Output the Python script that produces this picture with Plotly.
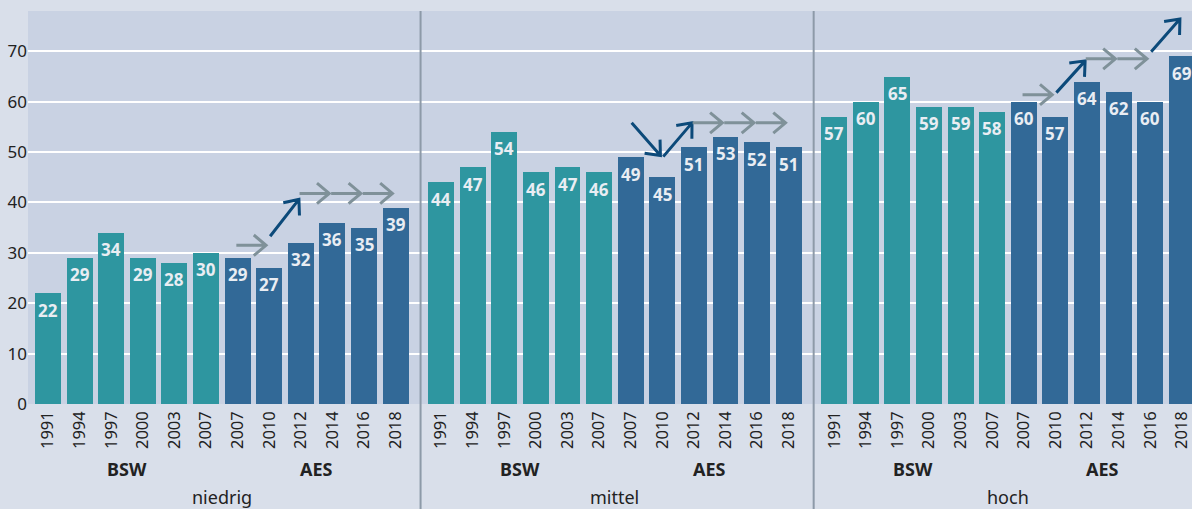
import math
import plotly.graph_objects as go

# ---------------- data ----------------
years = ["1991", "1994", "1997", "2000", "2003", "2007",
         "2007", "2010", "2012", "2014", "2016", "2018"]
surveys = ["BSW", "AES"]
survey_of_bar = ["BSW"] * 6 + ["AES"] * 6
groups = ["niedrig", "mittel", "hoch"]

niedrig = [22, 29, 34, 29, 28, 30, 29, 27, 32, 36, 35, 39]
mittel = [44, 47, 54, 46, 47, 46, 49, 45, 51, 53, 52, 51]
hoch = [57, 60, 65, 59, 59, 58, 60, 57, 64, 62, 60, 69]

# trend arrows between consecutive AES waves (bar index 6->7 ... 10->11)
# (start level, end level)
niedrig_arrows = [(31.5, 31.5), (33.3, 40.6), (41.8, 41.8), (41.8, 41.8), (41.8, 41.8)]
mittel_arrows = [(55.8, 49.3), (49.1, 55.8), (55.8, 55.8), (55.8, 55.8), (55.8, 55.8)]
hoch_arrows = [(61.4, 61.4), (61.8, 68.1), (68.5, 68.5), (68.5, 68.5), (69.9, 76.4)]

y_ticks = [0, 10, 20, 30, 40, 50, 60, 70]

# ---------------- layout constants ----------------
W, H = 1192, 509
ML, MR, MT, MB = 28, 0, 11, 105
PW, PH = W - ML - MR, H - MT - MB
STRIDE = 12.44
X0 = -0.633
PX_PER_X = 31.6
X1 = X0 + PW / PX_PER_X
Y0, Y1 = 0, 78
PX_PER_Y = PH / (Y1 - Y0)

C_BSW = "#2e96a0"
C_AES = "#326997"
C_GRAY = "#7f9199"
C_BLUE = "#0c4a7a"
FONT = "Noto Sans"

series = [niedrig, mittel, hoch]
arrows = [niedrig_arrows, mittel_arrows, hoch_arrows]

fig = go.Figure()
annotations = []
shapes = []

for p, (g, vals) in enumerate(zip(groups, series)):
    xs = [p * STRIDE + i for i in range(len(years))]
    colors = [C_BSW if s == "BSW" else C_AES for s in survey_of_bar]
    fig.add_trace(go.Bar(
        x=xs, y=vals, width=0.82, marker=dict(color=colors, line=dict(width=0)),
        showlegend=False, hoverinfo="skip",
    ))
    for x, v in zip(xs, vals):
        annotations.append(dict(x=x, y=v, xref="x", yref="y", text=f"<b>{v}</b>",
                                showarrow=False, yanchor="middle", yshift=-17,
                                font=dict(size=17, color="#e9edf3", family=FONT)))


def to_px(x, y):
    return (x - X0) * PX_PER_X, (y - Y0) * PX_PER_Y


def from_px(px, py):
    return X0 + px / PX_PER_X, Y0 + py / PX_PER_Y


for p, arr in enumerate(arrows):
    for k, (ys, ye) in enumerate(arr):
        i = 6 + k
        horiz = abs(ys - ye) < 1e-9
        if horiz:
            xa, xb = p * STRIDE + i - 0.04, p * STRIDE + i + 1 - 0.1
            col = C_GRAY
        else:
            xa, xb = p * STRIDE + i + 0.03, p * STRIDE + i + 1 - 0.06
            col = C_BLUE
        ax, ay = to_px(xa, ys)
        bx, by = to_px(xb, ye)
        ang = math.atan2(by - ay, bx - ax)
        L = 16
        pts = []
        for d in (math.radians(140), -math.radians(140)):
            hx = bx + L * math.cos(ang + d)
            hy = by + L * math.sin(ang + d)
            pts.append(from_px(hx, hy))
        path = (f"M{xa},{ys} L{xb},{ye} "
                f"M{pts[0][0]},{pts[0][1]} L{xb},{ye} L{pts[1][0]},{pts[1][1]}")
        shapes.append(dict(type="path", path=path, xref="x", yref="y",
                           line=dict(color=col, width=3), layer="above"))

# panel separators (paper coords so they extend below the plot)
for p in (1, 2):
    xsep = p * STRIDE - (STRIDE - 11) / 2 + 0.07
    xp = (xsep - X0) / (X1 - X0)
    shapes.append(dict(type="line", xref="paper", yref="paper", x0=xp, x1=xp,
                       y0=1, y1=-(MB + 2) / PH, line=dict(color="#8d9aa8", width=2),
                       layer="above"))

for p, g in enumerate(groups):
    for s in surveys:
        idx = [i for i, sv in enumerate(survey_of_bar) if sv == s]
        xc = p * STRIDE + (idx[0] + idx[-1]) / 2
        annotations.append(dict(x=xc, y=0, xref="x", yref="paper", text=f"<b>{s}</b>",
                                showarrow=False, yanchor="middle", yshift=-65,
                                font=dict(size=18, color="#222", family=FONT)))
    xc = p * STRIDE + (len(years) - 1) / 2
    annotations.append(dict(x=xc, y=0, xref="x", yref="paper", text=g,
                            showarrow=False, yanchor="middle", yshift=-93,
                            font=dict(size=18, color="#222", family=FONT)))

tickvals = [p * STRIDE + i for p in range(3) for i in range(len(years))]
ticktext = years * 3

fig.update_layout(
    width=W, height=H, margin=dict(l=ML, r=MR, t=MT, b=MB),
    paper_bgcolor="#d9dfea", plot_bgcolor="#c9d2e3",
    bargap=0, showlegend=False,
    font=dict(family=FONT, color="#222"),
    shapes=shapes, annotations=annotations,
    xaxis=dict(range=[X0, X1], tickvals=tickvals, ticktext=ticktext, tickangle=-90,
               showgrid=False, zeroline=False, showline=False,
               ticklabeloverflow="allow", ticklabelstandoff=3,
               tickfont=dict(size=16.5, color="#222", family=FONT), ticks=""),
    yaxis=dict(range=[Y0, Y1], tickvals=y_ticks, showgrid=True, gridcolor="#ffffff",
               gridwidth=2, zeroline=False, showline=False, ticks="",
               tickfont=dict(size=17, color="#222", family=FONT)),
)

fig.write_html("out.html", config={"displayModeBar": False},
               post_script="document.body.style.margin='0';document.body.style.overflow='hidden';document.body.style.background='#d9dfea';")
